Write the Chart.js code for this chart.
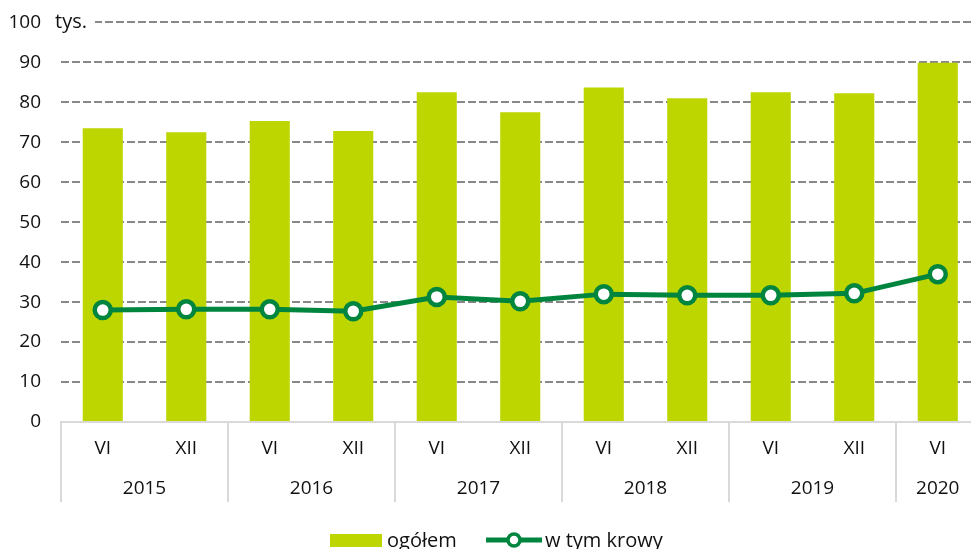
<!DOCTYPE html>
<html>
<head>
<meta charset="utf-8">
<script src="https://cdn.jsdelivr.net/npm/chart.js@4/dist/chart.umd.min.js"></script>
<style>
  html, body { margin: 0; padding: 0; background: #fff; overflow: hidden; }
  #wrap { width: 971px; height: 549px; overflow: hidden; }
  #chart { display: block; margin-top: -9px; }
</style>
</head>
<body>
<div id="wrap"><canvas id="chart" width="992" height="558"></canvas></div>
<script>
// dane
const months = ['VI', 'XII', 'VI', 'XII', 'VI', 'XII', 'VI', 'XII', 'VI', 'XII', 'VI'];
const years = ['2015', '2016', '2017', '2018', '2019', '2020'];
const yearSpan = [2, 2, 2, 2, 2, 1];
const ogolem = [73.5, 72.5, 75.3, 72.8, 82.5, 77.5, 83.7, 81.0, 82.5, 82.3, 89.9];
const krowy = [28.0, 28.2, 28.2, 27.7, 31.3, 30.2, 32.0, 31.7, 31.7, 32.2, 37.0];
const yTicks = [0, 10, 20, 30, 40, 50, 60, 70, 80, 90, 100];
const unitLabel = 'tys.';
const legendNames = ['ogółem', 'w tym krowy'];

const BAR = '#bed600';
const LINE = '#00853e';
const FONT = '"Open Sans", "Noto Sans", sans-serif';
const TEXT = '#111';

const extras = {
  id: 'extras',
  afterDraw(chart) {
    const ctx = chart.ctx;
    const x = chart.scales.x;
    const area = chart.chartArea;
    const b = area.bottom;
    ctx.save();

    // separatory lat i etykiety lat
    ctx.strokeStyle = '#d9d9d9';
    ctx.lineWidth = 2;
    const step = x.getPixelForValue(1) - x.getPixelForValue(0);
    let idx = 0;
    ctx.font = '19px ' + FONT;
    ctx.fillStyle = TEXT;
    ctx.textAlign = 'center';
    ctx.textBaseline = 'middle';
    years.forEach((yr, i) => {
      const left = x.getPixelForValue(idx) - step / 2;
      const right = x.getPixelForValue(idx + yearSpan[i] - 1) + step / 2;
      ctx.beginPath();
      ctx.moveTo(left, b);
      ctx.lineTo(left, b + 80);
      ctx.stroke();
      ctx.fillText(yr, (left + right) / 2, b + 67);
      idx += yearSpan[i];
    });

    // jednostka
    ctx.fillStyle = '#fff';
    ctx.fillRect(50, area.top - 11, 45, 22);
    ctx.fillStyle = TEXT;
    ctx.textAlign = 'left';
    ctx.font = '20px ' + FONT;
    ctx.fillText(unitLabel, 55, area.top);

    // legenda
    const ly = b + 118;
    ctx.fillStyle = BAR;
    ctx.fillRect(330, ly - 6, 52, 13);
    ctx.fillStyle = TEXT;
    ctx.fillText(legendNames[0], 387, ly + 1);
    ctx.strokeStyle = LINE;
    ctx.lineWidth = 5;
    ctx.beginPath();
    ctx.moveTo(486, ly);
    ctx.lineTo(542, ly);
    ctx.stroke();
    ctx.beginPath();
    ctx.arc(514, ly, 6, 0, Math.PI * 2);
    ctx.fillStyle = '#fff';
    ctx.fill();
    ctx.lineWidth = 3.5;
    ctx.stroke();
    ctx.fillStyle = TEXT;
    ctx.fillText(legendNames[1], 545, ly + 1);
    ctx.restore();
  }
};

new Chart(document.getElementById('chart'), {
  data: {
    labels: months,
    datasets: [
      {
        type: 'line',
        label: legendNames[1],
        data: krowy,
        order: 0,
        borderColor: LINE,
        borderWidth: 5,
        pointRadius: 8,
        pointBorderWidth: 4.5,
        pointBackgroundColor: '#fff',
        pointBorderColor: LINE,
        tension: 0
      },
      {
        type: 'bar',
        label: legendNames[0],
        data: ogolem,
        order: 1,
        backgroundColor: BAR,
        barPercentage: 0.48,
        categoryPercentage: 1
      }
    ]
  },
  options: {
    responsive: false,
    devicePixelRatio: 1,
    animation: false,
    layout: { padding: { top: 13, left: 0, right: 0, bottom: 0 } },
    plugins: { legend: { display: false }, tooltip: { enabled: false } },
    scales: {
      x: {
        afterFit: s => { s.height = 127; },
        grid: { drawOnChartArea: false, drawTicks: false },
        border: { display: true, color: '#d9d9d9', width: 2 },
        ticks: { color: TEXT, font: { family: FONT, size: 19 }, padding: 15, maxRotation: 0, autoSkip: false }
      },
      y: {
        min: 0,
        max: 100,
        afterFit: s => { s.width = 61; },
        afterBuildTicks: s => { s.ticks = yTicks.map(v => ({ value: v })); },
        grid: { color: '#888', lineWidth: 2, drawTicks: false, tickLength: 0 },
        border: { display: false, dash: [8, 3] },
        ticks: { color: TEXT, font: { family: FONT, size: 19 }, padding: 20 }
      }
    }
  },
  plugins: [extras]
});
</script>
</body>
</html>
